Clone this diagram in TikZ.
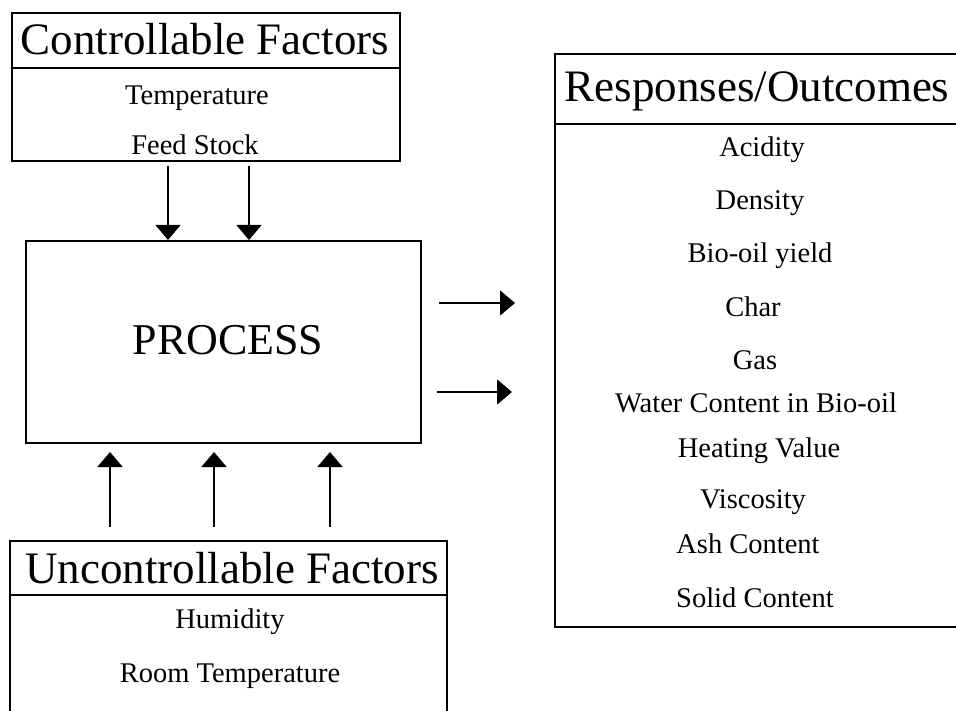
\documentclass[tikz,border=0pt]{standalone}
\usepackage{fontspec}
\setmainfont{Liberation Serif}
\usetikzlibrary{arrows.meta}
\begin{document}
\begin{tikzpicture}[x=1pt,y=-1pt,
  boxA/.style={draw, line width=1.8pt, rectangle, inner sep=0pt, outer sep=0pt, anchor=north west},
  ttl/.style={anchor=base, inner sep=0pt, font=\fontsize{45}{54}\selectfont},
  itm/.style={anchor=base, inner sep=0pt, font=\fontsize{28.5}{34}\selectfont},
  arr/.style={line width=1.5pt, -{Triangle[width=25pt,length=15pt]}}]
\useasboundingbox (0,0) rectangle (956,711);
\clip (0,0) rectangle (956,711);
\fill[white] (0,0) rectangle (956,711);
% Controllable factors
\node[boxA, minimum width=388pt, minimum height=55pt] (cft) at (12,13) {};
\node[boxA, minimum width=388pt, minimum height=93pt] (cfb) at (12,68) {};
\node[ttl] (cftt) at (205,55) {Controllable Factors};
\node[itm] (c1) at (197,105) {Temperature};
\node[itm] (c2) at (195,155) {Feed Stock};
% Process
\node[boxA, minimum width=395pt, minimum height=202pt] (proc) at (26,241) {};
\node[anchor=base, inner sep=0pt, font=\fontsize{44}{52}\selectfont] (proct) at (228,355) {PROCESS};
% Uncontrollable factors
\node[boxA, minimum width=437pt, minimum height=54pt] (uft) at (10,541) {};
\node[boxA, minimum width=437pt, minimum height=150pt] (ufb) at (10,595) {};
\node[ttl] (uftt) at (232,583) {Uncontrollable Factors};
\node[itm] (u1t) at (230,628) {Humidity};
\node[itm] (u2t) at (230,682) {Room Temperature};
% Responses
\node[boxA, minimum width=420pt, minimum height=70pt] (rt) at (555,54) {};
\node[boxA, minimum width=420pt, minimum height=503pt] (rb) at (555,124) {};
\node[ttl] (rtt) at (757,102) {Responses/Outcomes};
\node[itm] (o1) at (762,157) {Acidity};
\node[itm] (o2) at (760,210) {Density};
\node[itm] (o3) at (760,263) {Bio-oil yield};
\node[itm] (o4) at (753,317) {Char};
\node[itm] (o5) at (755,370) {Gas};
\node[itm] (o6) at (756,412) {Water Content in Bio-oil};
\node[itm] (o7) at (759,457) {Heating Value};
\node[itm] (o8) at (753,508) {Viscosity};
\node[itm] (o9) at (748,553) {Ash Content};
\node[itm] (o10) at (755,607) {Solid Content};
% arrow positions
\coordinate (d1) at (168,0);
\coordinate (d2) at (249,0);
\coordinate (a1) at (110,0);
\coordinate (a2) at (214,0);
\coordinate (a3) at (330,0);
\coordinate (r1) at (0,303);
\coordinate (r2) at (0,392);
\draw[arr, shorten <=5pt, shorten >=1pt] (cfb.south -| d1) -- (proc.north -| d1);
\draw[arr, shorten <=5pt, shorten >=1pt] (cfb.south -| d2) -- (proc.north -| d2);
\draw[arr, shorten <=14pt, shorten >=9pt] (uft.north -| a1) -- (proc.south -| a1);
\draw[arr, shorten <=14pt, shorten >=9pt] (uft.north -| a2) -- (proc.south -| a2);
\draw[arr, shorten <=14pt, shorten >=9pt] (uft.north -| a3) -- (proc.south -| a3);
\draw[arr, shorten <=18pt, shorten >=40pt] (proc.east |- r1) -- (rb.west |- r1);
\draw[arr, shorten <=16pt, shorten >=43pt] (proc.east |- r2) -- (rb.west |- r2);
\end{tikzpicture}
\end{document}
